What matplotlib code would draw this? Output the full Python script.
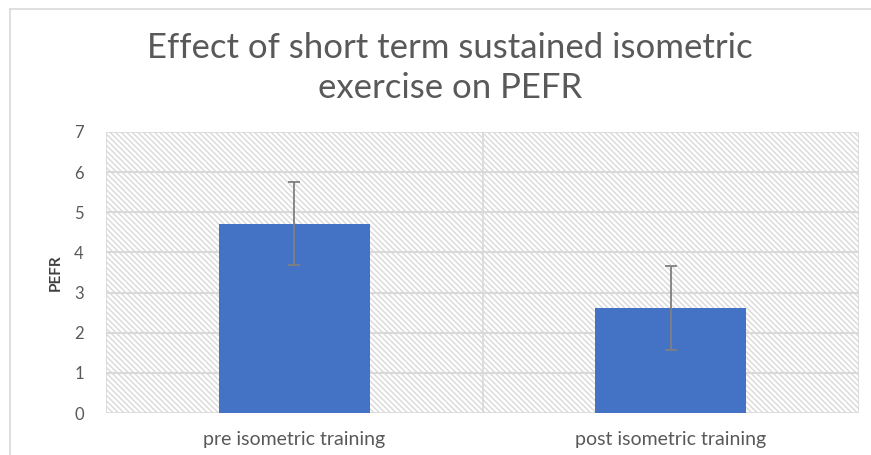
import numpy as np
import matplotlib.pyplot as plt
from matplotlib.lines import Line2D

# data
groups = ["pre isometric training", "post isometric training"]
pefr_mean = [4.72, 2.62]
pefr_err = [1.04, 1.05]
yticks = [0, 1, 2, 3, 4, 5, 6, 7]

plt.rcParams['font.family'] = ['Lato', 'DejaVu Sans']
plt.rcParams['hatch.color'] = '#dcdcdc'
plt.rcParams['hatch.linewidth'] = 1.0

fig = plt.figure(figsize=(8.71, 4.55), dpi=100)
ax = fig.add_axes([106/871, 1 - 413/455, (859 - 106)/871, (413 - 132)/455])

# hatched plot area background
ax.add_patch(plt.Rectangle((0, 0), 1, 1, transform=ax.transAxes, facecolor='white',
                           edgecolor='#d9d9d9', hatch='\\' * 6, lw=1.2, zorder=0))

x = np.arange(len(groups))
ax.bar(x, pefr_mean, width=0.4, color='#4472c4', zorder=3)
ax.errorbar(x, pefr_mean, yerr=pefr_err, fmt='none', ecolor='#7f7f7f',
            elinewidth=1.3, capsize=4.5, capthick=1.3, zorder=4)

ax.set_xlim(-0.5, 1.5)
ax.set_ylim(0, 7)
ax.set_yticks(yticks)
for t in yticks[1:-1]:
    ax.axhline(t, color='#d9d9d9', lw=1.5, zorder=1)
ax.axvline(0.5, color='#d9d9d9', lw=1.2, zorder=1)

ax.set_xticks(x)
ax.set_xticklabels(groups)
ax.tick_params(length=0, colors='#595959')
ax.tick_params(axis='y', labelsize=12, pad=16)
ax.tick_params(axis='x', labelsize=14, pad=13)
for s in ax.spines.values():
    s.set_visible(False)

ax.set_ylabel('PEFR', fontsize=11, fontweight='bold', color='#404040', labelpad=8)

fig.text(450/871, 1 - 68/455, 'Effect of short term sustained isometric\nexercise on PEFR',
         ha='center', va='center', fontsize=25, color='#595959', linespacing=1.28)

# outer chart frame
fig.add_artist(Line2D([10/871, 1], [1 - 8.5/455] * 2, color='#d9d9d9', lw=1.2))
fig.add_artist(Line2D([10/871] * 2, [0, 1 - 8.5/455], color='#d9d9d9', lw=1.2))

fig.savefig('out.png', dpi=100)
